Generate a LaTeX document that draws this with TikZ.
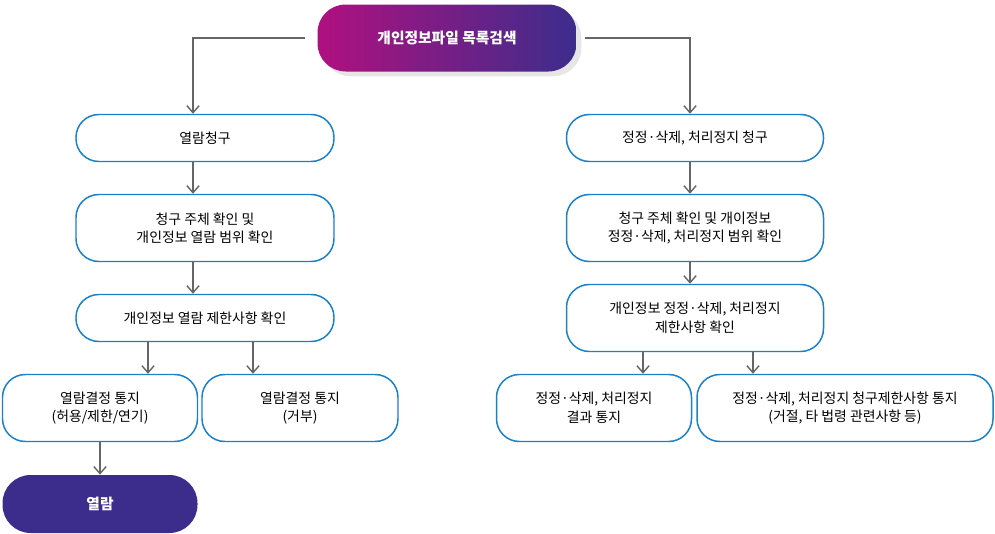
\documentclass[tikz,border=0pt]{standalone}
\usepackage{fontspec}
\setmainfont{Noto Sans CJK KR}
\usetikzlibrary{arrows.meta,shadows}
\definecolor{boxblue}{HTML}{1A80C8}
\definecolor{arrgray}{HTML}{666666}
\definecolor{topmag}{HTML}{B0107F}
\definecolor{toppur}{HTML}{3C2D8C}
\begin{document}
\begin{tikzpicture}[x=0.02cm,y=-0.02cm,>={Straight Barb[length=4pt,width=7pt]}]
\tikzstyle{every node}=[font=\fontsize{7.9pt}{10.5pt}\selectfont,align=center]
\tikzstyle{procbox}=[draw=boxblue,line width=0.85pt,rounded corners=13pt,fill=white,inner sep=0pt]
\tikzstyle{arr}=[->,draw=arrgray,line width=0.8pt]
\useasboundingbox (0,0) rectangle (995,534);
% top
\node[rounded corners=16pt,minimum width=259*0.02cm,minimum height=67*0.02cm,left color=topmag,right color=toppur,text=white,font=\fontsize{8.4pt}{10pt}\selectfont\bfseries,drop shadow={opacity=0.2}](top) at (447,38) {개인정보파일 목록검색};
% left column
\node[procbox,minimum width=258*0.02cm,minimum height=47*0.02cm](l1) at (205,138) {열람청구};
\node[procbox,minimum width=258*0.02cm,minimum height=67*0.02cm](l2) at (205,228) {청구 주체 확인 및\\개인정보 열람 범위 확인};
\node[procbox,minimum width=258*0.02cm,minimum height=47*0.02cm](l3) at (205,318) {개인정보 열람 제한사항 확인};
\node[procbox,minimum width=195*0.02cm,minimum height=67*0.02cm](l4) at (100,408) {열람결정 통지\\(허용/제한/연기)};
\node[procbox,minimum width=196*0.02cm,minimum height=67*0.02cm](l5) at (300,408) {열람결정 통지\\(거부)};
\node[rounded corners=16pt,fill=toppur,text=white,font=\fontsize{8.4pt}{10pt}\selectfont\bfseries,minimum width=195*0.02cm,minimum height=58*0.02cm](l6) at (100,504) {열람};
% right column
\node[procbox,minimum width=257*0.02cm,minimum height=47*0.02cm](r1) at (695,138) {정정·삭제, 처리정지 청구};
\node[procbox,minimum width=257*0.02cm,minimum height=67*0.02cm](r2) at (695,228) {청구 주체 확인 및 개이정보\\정정·삭제, 처리정지 범위 확인};
\node[procbox,minimum width=257*0.02cm,minimum height=67*0.02cm](r3) at (695,318) {개인정보 정정·삭제, 처리정지\\제한사항 확인};
\node[procbox,minimum width=195*0.02cm,minimum height=67*0.02cm](r4) at (594,408) {정정·삭제, 처리정지\\결과 통지};
\node[procbox,minimum width=296*0.02cm,minimum height=67*0.02cm](r5) at (845,408) {정정·삭제, 처리정지 청구제한사항 통지\\(거절, 타 법령 관련사항 등)};
% connectors
\coordinate (tl) at (305,38);
\coordinate (tr) at (585,38);
\draw[arr] (tl) -| ([xshift=-12*0.02cm]l1.north);
\draw[arr] (tr) -| ([xshift=-5*0.02cm]r1.north);
\draw[arr] ([xshift=-12*0.02cm]l1.south) -- ([xshift=-12*0.02cm]l2.north);
\draw[arr] ([xshift=-12*0.02cm]l2.south) -- ([xshift=-12*0.02cm]l3.north);
\draw[arr] ([xshift=-57*0.02cm]l3.south) -- ([xshift=48*0.02cm]l4.north);
\draw[arr] ([xshift=48*0.02cm]l3.south) -- ([xshift=-47*0.02cm]l5.north);
\draw[arr] (l4.south) -- (l6.north);
\draw[arr] ([xshift=-5*0.02cm]r1.south) -- ([xshift=-5*0.02cm]r2.north);
\draw[arr] ([xshift=-5*0.02cm]r2.south) -- ([xshift=-5*0.02cm]r3.north);
\draw[arr] ([xshift=-52*0.02cm]r3.south) -- ([xshift=49*0.02cm]r4.north);
\draw[arr] ([xshift=58*0.02cm]r3.south) -- ([xshift=-92*0.02cm]r5.north);
\end{tikzpicture}
\end{document}
